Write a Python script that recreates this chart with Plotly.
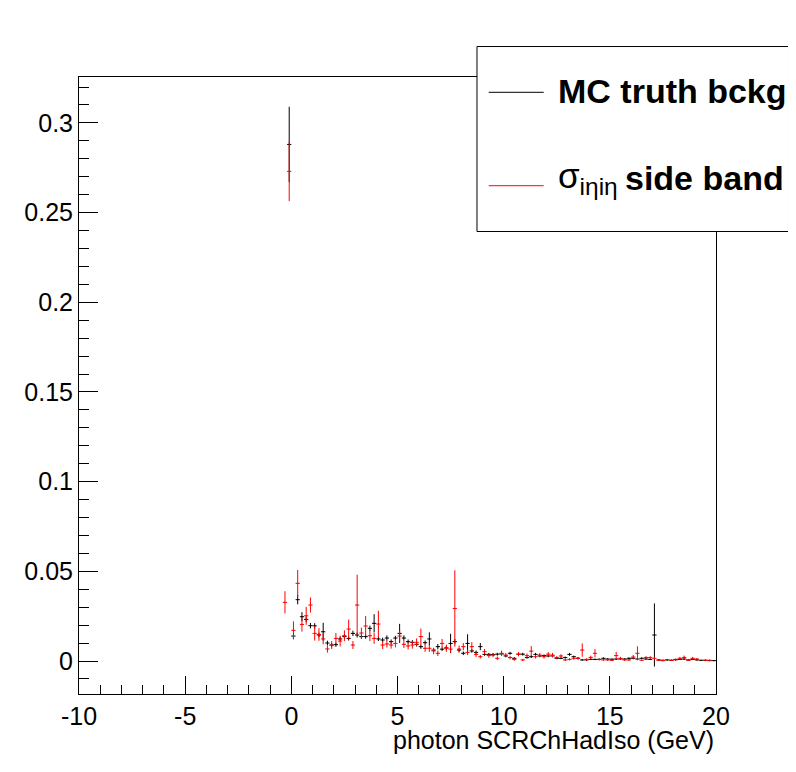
import plotly.graph_objects as go

# bin centres of the 0.2 GeV wide bins (first filled bin is -0.3)
bin_centers = [round(-0.3 + 0.2 * i, 1) for i in range(102)]

# MC truth background (black)
mc_truth = [None, 0.288, 0.0139, 0.0342, 0.0247, 0.0232, 0.0197, 0.0196, 0.0145, 0.0163,
            0.0100, 0.0089, 0.0091, 0.0123, 0.0136, 0.0126, 0.0154, 0.0145, 0.0136, 0.0136,
            0.0182, 0.0210, 0.0123, 0.0117, 0.0128, 0.0108, 0.0128, 0.0154, 0.0128, 0.0108,
            0.0104, 0.0093, 0.0080, 0.0102, 0.0123, 0.0061, 0.0080, 0.0066, 0.0073, 0.0098,
            0.0108, 0.0061, 0.0043, 0.0098, 0.0056, 0.0048, 0.0080, 0.0037, 0.0037, 0.0036,
            0.0038, 0.0039, 0.0028, 0.0043, 0.0015, 0.0038, 0.0038, 0.0019, 0.0024, 0.0037,
            0.0028, 0.0030, 0.0028, 0.0028, 0.0015, 0.0015, 0.0019, 0.0037, 0.0024, 0.0015,
            0.0006, 0.0006, 0.0009, 0.0009, 0.0009, 0.0015, 0.0011, 0.0010, 0.0011, 0.0011,
            0.0011, 0.0015, 0.0015, 0.0011, 0.0015, 0.0011, 0.0009, 0.0145, 0.0006, 0.0004,
            0.0006, 0.0004, 0.0009, 0.0009, 0.0011, 0.0006, 0.0009, 0.0006, 0.0004, 0.0004,
            0.0002, 0.0002]
mc_truth_err = [None, 0.021, 0.0017, 0.0026, 0.0025, 0.0015, 0.0015, 0.0015, 0.0013, 0.0050,
                0.0013, 0.0012, 0.0012, 0.0012, 0.0013, 0.0012, 0.0015, 0.0014, 0.0012, 0.0012,
                0.0015, 0.0051, 0.0012, 0.0013, 0.0015, 0.0012, 0.0012, 0.0053, 0.0015, 0.0012,
                0.0012, 0.0012, 0.0012, 0.0012, 0.0037, 0.0010, 0.0015, 0.0010, 0.0012, 0.0054,
                0.0015, 0.0010, 0.0010, 0.0051, 0.0010, 0.0010, 0.0020, 0.0008, 0.0008, 0.0008,
                0.0008, 0.0008, 0.0007, 0.0008, 0.0006, 0.0008, 0.0008, 0.0006, 0.0007, 0.0008,
                0.0007, 0.0007, 0.0007, 0.0007, 0.0005, 0.0005, 0.0006, 0.0008, 0.0006, 0.0005,
                0.0004, 0.0004, 0.0004, 0.0004, 0.0004, 0.0005, 0.0004, 0.0004, 0.0004, 0.0004,
                0.0004, 0.0005, 0.0005, 0.0004, 0.0005, 0.0004, 0.0004, 0.0176, 0.0003, 0.0003,
                0.0003, 0.0003, 0.0004, 0.0004, 0.0004, 0.0003, 0.0004, 0.0003, 0.0003, 0.0003,
                0.0002, 0.0002]

# sigma_ietaieta side band (red)
side_band = [0.0327, 0.273, 0.0171, 0.0433, 0.0204, 0.0252, 0.0312, 0.0154, 0.0148, 0.0123,
             0.0067, 0.0089, 0.0126, 0.0111, 0.0141, 0.0178, 0.0089, 0.0312, 0.0156, 0.0195,
             0.0141, 0.0126, 0.0206, 0.0089, 0.0095, 0.0089, 0.0098, 0.0139, 0.0093, 0.0084,
             0.0089, 0.0104, 0.0136, 0.0071, 0.0071, 0.0056, 0.0043, 0.0098, 0.0071, 0.0066,
             0.0293, 0.0066, 0.0080, 0.0048, 0.0080, 0.0037, 0.0024, 0.0052, 0.0030, 0.0033,
             0.0015, 0.0043, 0.0033, 0.0019, 0.0009, 0.0038, 0.0006, 0.0030, 0.0055, 0.0024,
             0.0033, 0.0024, 0.0038, 0.0033, 0.0019, 0.0028, 0.0006, 0.0009, 0.0015, 0.0015,
             0.0061, 0.0009, 0.0020, 0.0043, 0.0009, 0.0006, 0.0006, 0.0004, 0.0030, 0.0015,
             0.0006, 0.0006, 0.0022, 0.0043, 0.0004, 0.0019, 0.0019, 0.0015, 0.0004, 0.0002,
             None, 0.0004, 0.0006, 0.0015, 0.0020, 0.0004, 0.0015, 0.0011, None, 0.0004,
             0.0004, None]
side_band_err = [0.0062, 0.0166, 0.0050, 0.0075, 0.0040, 0.0050, 0.0042, 0.0040, 0.0035, 0.0030,
                 0.0020, 0.0022, 0.0030, 0.0030, 0.0030, 0.0053, 0.0022, 0.0169, 0.0030, 0.0056,
                 0.0030, 0.0030, 0.0074, 0.0022, 0.0020, 0.0020, 0.0022, 0.0030, 0.0020, 0.0020,
                 0.0020, 0.0022, 0.0045, 0.0020, 0.0020, 0.0018, 0.0015, 0.0025, 0.0020, 0.0020,
                 0.0213, 0.0020, 0.0020, 0.0015, 0.0025, 0.0015, 0.0010, 0.0015, 0.0012, 0.0012,
                 0.0010, 0.0015, 0.0012, 0.0010, 0.0008, 0.0012, 0.0006, 0.0012, 0.0028, 0.0010,
                 0.0012, 0.0010, 0.0012, 0.0012, 0.0008, 0.0010, 0.0006, 0.0006, 0.0008, 0.0008,
                 0.0037, 0.0006, 0.0010, 0.0023, 0.0006, 0.0005, 0.0005, 0.0004, 0.0020, 0.0008,
                 0.0005, 0.0005, 0.0012, 0.0039, 0.0004, 0.0008, 0.0008, 0.0008, 0.0004, 0.0003,
                 None, 0.0004, 0.0005, 0.0008, 0.0010, 0.0004, 0.0008, 0.0006, None, 0.0004,
                 0.0004, None]

x_ticks = [-10, -5, 0, 5, 10, 15, 20]
x_tick_text = ["-10", "-5", "0", "5", "10", "15", "20"]

font = "Liberation Sans, Arial, sans-serif"


def hist_trace(y, err, color, name):
	""" ROOT-like histogram drawn as crosses: bin width horizontally, stat error vertically. """
	return go.Scatter(
		x=bin_centers, y=y, mode="markers", name=name,
		marker=dict(size=1, color=color),
		error_x=dict(type="constant", value=0.1, width=0, thickness=1, color=color),
		error_y=dict(type="data", array=err, width=0, thickness=1, color=color),
		showlegend=False)


fig = go.Figure()
fig.add_trace(hist_trace(mc_truth, mc_truth_err, "black", "MC truth bckg"))
fig.add_trace(hist_trace(side_band, side_band_err, "red", "side band"))

axis_style = dict(showline=True, linecolor="black", linewidth=1, mirror=True,
                  showgrid=False, zeroline=False, ticks="inside", tickcolor="black",
                  tickfont=dict(family=font, size=25, color="black"))

# the page body adds an 8px offset, so the margins are shifted to compensate
fig.update_layout(
	width=796, height=772,
	margin=dict(l=71, r=88, t=69, b=86),
	paper_bgcolor="white", plot_bgcolor="white",
	xaxis=dict(range=[-10, 20], tickmode="array", tickvals=x_ticks, ticktext=x_tick_text,
	           ticklen=18, minor=dict(tickmode="linear", tick0=0, dtick=1, ticklen=9,
	                                  ticks="inside", tickcolor="black"),
	           **axis_style),
	yaxis=dict(range=[-0.0184, 0.3256], tickmode="linear", tick0=0, dtick=0.05,
	           ticklen=19, minor=dict(tickmode="linear", tick0=0, dtick=0.01, ticklen=10,
	                                  ticks="inside", tickcolor="black"),
	           **axis_style),
)

# x axis title, right aligned at the end of the axis like ROOT
fig.add_annotation(text="photon SCRChHadIso (GeV)", xref="paper", yref="paper",
                   x=1, y=-0.075, xanchor="right", yanchor="middle", showarrow=False,
                   font=dict(family=font, size=25, color="black"))

# legend box (TLegend), drawn by hand because it sticks out of the frame
fig.add_shape(type="rect", xref="paper", yref="paper", x0=0.6248, x1=1.1138,
              y0=0.7496, y1=1.0494, fillcolor="white", line=dict(color="black", width=1),
              layer="above")
fig.add_shape(type="line", xref="paper", yref="paper", x0=0.6432, x1=0.7295,
              y0=0.9752, y1=0.9752, line=dict(color="black", width=1), layer="above")
fig.add_shape(type="line", xref="paper", yref="paper", x0=0.6432, x1=0.7295,
              y0=0.8238, y1=0.8238, line=dict(color="red", width=1), layer="above")
fig.add_annotation(text="<b>MC truth bckg</b>", xref="paper", yref="paper",
                   x=0.7488, y=0.9773, xanchor="left", yanchor="middle", showarrow=False,
                   font=dict(family=font, size=34, color="black"))
fig.add_annotation(text="σ<sub>iηiη</sub>", xref="paper", yref="paper",
                   x=0.7488, y=0.8363, xanchor="left", yanchor="middle", showarrow=False,
                   font=dict(family=font, size=35, color="black"))
fig.add_annotation(text="<b>side band</b>", xref="paper", yref="paper",
                   x=0.8536, y=0.8363, xanchor="left", yanchor="middle", showarrow=False,
                   font=dict(family=font, size=34, color="black"))

fig.write_html("out.html")
